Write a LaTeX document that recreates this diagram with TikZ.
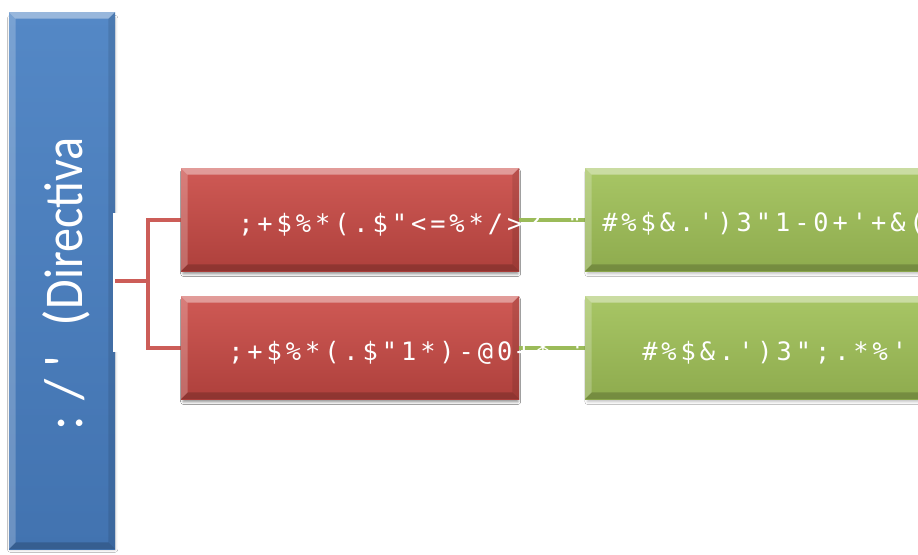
\documentclass[tikz,border=0pt]{standalone}
\usepackage{fontspec}
\usepackage{graphicx}
\newfontfamily\calib{Carlito}
\newfontfamily\monof{DejaVu Sans Mono}[LetterSpace=15.6]
\usetikzlibrary{fit,shadows.blur}
\definecolor{blueTop}{HTML}{5488C6}
\definecolor{blueBot}{HTML}{4273B0}
\definecolor{redTop}{HTML}{CF5A55}
\definecolor{redBot}{HTML}{AE403C}
\definecolor{greenTop}{HTML}{A8C665}
\definecolor{greenBot}{HTML}{8EAB4E}
\definecolor{redLine}{HTML}{CC5D58}
\definecolor{greenLine}{HTML}{9BBB59}
\tikzset{
  bevel/.style={path picture={
    \path (path picture bounding box.north west) coordinate (pnw)
          (path picture bounding box.south east) coordinate (pse);
    \fill[white,opacity=.40] (pnw) -- (pnw -| pse) -- ([shift={(-5pt,-5pt)}]pnw -| pse) -- ([shift={(5pt,-5pt)}]pnw) -- cycle;
    \fill[white,opacity=.22] (pnw) -- ([shift={(5pt,-5pt)}]pnw) -- ([shift={(5pt,5pt)}]pse -| pnw) -- (pse -| pnw) -- cycle;
    \fill[black,opacity=.18] (pse -| pnw) -- ([shift={(5pt,5pt)}]pse -| pnw) -- ([shift={(-5pt,5pt)}]pse) -- (pse) -- cycle;
    \fill[black,opacity=.10] (pse) -- ([shift={(-5pt,5pt)}]pse) -- ([shift={(-5pt,-5pt)}]pnw -| pse) -- (pnw -| pse) -- cycle;
  }},
  box/.style={inner sep=0pt, outer sep=0pt, draw=none,
    blur shadow={shadow xshift=0.5pt, shadow yshift=-2.5pt, shadow blur radius=2pt, shadow opacity=25, shadow scale=0.99}, bevel},
  bluebox/.style={box, top color=blueTop, bottom color=blueBot},
  redbox/.style={box, top color=redTop, bottom color=redBot},
  greenbox/.style={box, top color=greenTop, bottom color=greenBot},
  redconn/.style={draw=redLine, line width=3pt},
  greenconn/.style={draw=greenLine, line width=3pt},
  monotxt/.style={text=white, inner sep=0pt, anchor=base west, font=\monof\fontsize{19}{21}\selectfont},
  bluetxt/.style={text=white, inner sep=0pt, anchor=base west, rotate=90, font=\calib\fontsize{41}{44}\selectfont},
}
\newcommand{\putat}[2]{\makebox[0pt][l]{\hspace*{#1}\makebox[0pt]{#2}}}
\begin{document}
\begin{tikzpicture}[x=0.75pt,y=-0.75pt]
\useasboundingbox (0,0) rectangle (918,554);
\clip (0,0) rectangle (918,554);
\fill[white] (0,0) rectangle (918,554);

% left blue box
\node[bluebox, fit={(9,12) (115,549)}] (blue) {};
\node[bluetxt] (bluet) at (82,430) {\putat{4.9pt}{:}\putat{29.6pt}{/}\putat{51.4pt}{'}\putat{83.6pt}{(}\hspace*{90.4pt}\scalebox{0.88}[1]{Directiva}};
\fill[white] (113,213) rectangle (122,352);

% boxes and connectors
\node[redbox, fit={(181,168) (519,271)}] (r1) {};
\node[redbox, fit={(181,296) (519,399)}] (r2) {};
\draw[redconn] (blue.east) -- ++(33,0) coordinate (jn) |- (r1.west);
\draw[redconn] (jn) |- (r2.west);
\node[redbox, fit={(181,168) (519,271)}] (r1) {};
\node[redbox, fit={(181,296) (519,399)}] (r2) {};
\draw[greenconn] (r1.east) -- ++(66,0) coordinate (g1w);
\draw[greenconn] (r2.east) -- ++(66,0) coordinate (g2w);

% red texts
\node[monotxt] (r1t) at (238,232) {;+\$\%*(.\$"<=\%*/>? "};
\node[monotxt] (r2t) at (228,360) {;+\$\%*(.\$"1*)-@0+* '};

% green boxes
\node[greenbox, fit={(585,168) (960,271)}] (g1) {};
\node[greenbox, fit={(585,296) (960,399)}] (g2) {};
\node[monotxt] (g1t) at (602,231) {\#\%\$\&.')3"1-0+'+\&(};
\node[monotxt] (g2t) at (642,360) {\#\%\$\&.')3";.*\%'};
\end{tikzpicture}
\end{document}
